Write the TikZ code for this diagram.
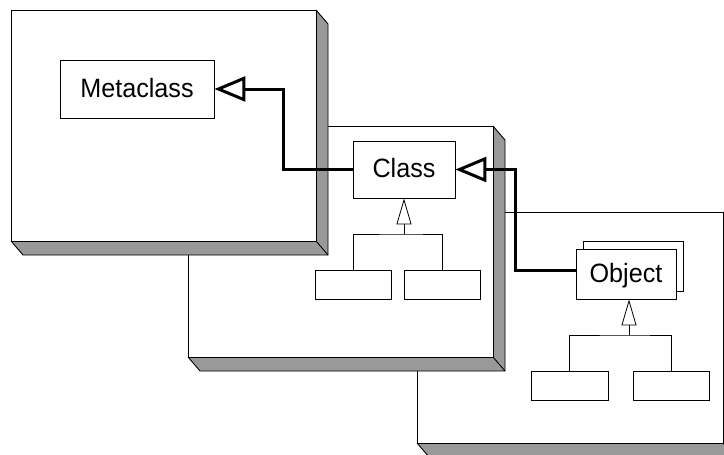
\documentclass[tikz,border=0pt]{standalone}
\usepackage{fontspec}
\setmainfont{Liberation Sans}
\newfontfamily\labelfont[FakeStretch=0.95]{Liberation Sans}
\usetikzlibrary{arrows.meta}
\definecolor{shadegrey}{HTML}{999999}
\tikzset{
  edge/.style={draw=black, line width=0.9pt, line join=miter},
  face/.style={fill=white, draw=black, line width=0.9pt},
  shadow/.style={fill=shadegrey},
  cls/.style={draw=black, fill=white, line width=0.9pt, inner sep=0pt,
    text height=19pt, text depth=3pt,
    font=\labelfont\fontsize{26.5}{30}\selectfont},
  sub/.style={draw=black, fill=white, line width=0.8pt, inner sep=0pt,
    minimum height=29pt},
  conn/.style={line width=3pt, line join=miter,
    -{Triangle[open, length=31pt, width=25pt, line width=3pt, fill=white]}},
  inh/.style={line width=0.8pt,
    -{Triangle[open, length=26pt, width=15pt, line width=0.8pt, fill=white]}},
  tree/.style={line width=0.8pt},
}
\newcommand\mypanel[4]{%
  \fill[shadow] (#3,#2) -- (#3+12,#2+14) -- (#3+12,#4+14) -- (#1+12,#4+14) -- (#1,#4) -- (#3,#4) -- cycle;
  \draw[edge] (#3,#2) -- (#3+12,#2+14) -- (#3+12,#4+14) -- (#1+12,#4+14) -- (#1,#4);
  \draw[edge] (#3,#4) -- (#3+12,#4+14);
  \filldraw[face] (#1,#2) rectangle (#3,#4);
}
\begin{document}
\begin{tikzpicture}[x=1pt, y=-1pt]
\useasboundingbox (0,0) rectangle (724,455);
\clip (0,0) rectangle (724,455);
\fill[white] (0,0) rectangle (724,455);

% panel 3 (object level)
\mypanel{417}{212}{723}{443}
\draw[line width=0.8pt, fill=white] (583,241) rectangle (683,291);
\node[cls, minimum width=100pt, minimum height=50pt] (object) at (626,274) {Object};
\node[sub, minimum width=77pt] (osubL) at (569.5,385.5) {};
\node[sub, minimum width=76pt] (osubR) at (671,385.5) {};
\coordinate (obar) at (629,335);
\draw[tree] (osubL.north) |- (obar) -| (osubR.north);
\draw[inh] (obar) -- (obar |- object.south);

% panel 2 (class level)
\mypanel{188}{126}{493}{357}
\node[cls, minimum width=102pt, minimum height=57pt] (class) at (404,169.5) {Class};
\node[sub, minimum width=76pt] (csubL) at (353,284.5) {};
\node[sub, minimum width=76pt] (csubR) at (442,284.5) {};
\coordinate (cbar) at (404,234);
\draw[tree] (csubL.north) |- (cbar) -| (csubR.north);
\draw[inh] (cbar) -- (class.south);

% panel 1 (metaclass level)
\mypanel{11}{10}{316}{241}
\node[cls, minimum width=154pt, minimum height=58pt] (meta) at (137,89) {Metaclass};

% connectors
\coordinate (mc) at (283,89);
\coordinate (oc) at (515,169.5);
\draw[conn] (class.west) -| (mc) -- (meta.east);
\draw[conn] ([yshift=4pt]object.west) -| (oc) -- (class.east);
\end{tikzpicture}
\end{document}
